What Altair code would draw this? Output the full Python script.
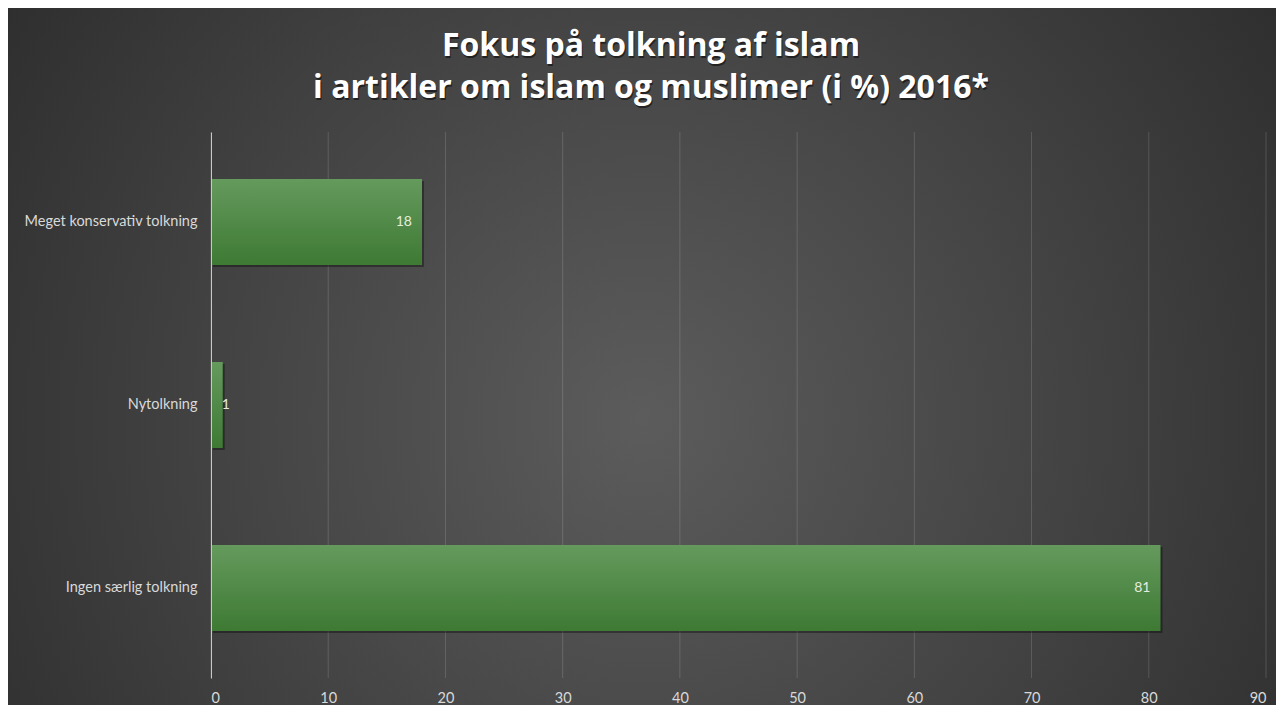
import altair as alt
import pandas as pd

categories = ["Meget konservativ tolkning", "Nytolkning", "Ingen særlig tolkning"]
values = [18, 1, 81]
x_ticks = [0, 10, 20, 30, 40, 50, 60, 70, 80, 90]
title_lines = ["Fokus på tolkning af islam", "i artikler om islam og muslimer (i %) 2016*"]

df = pd.DataFrame({"cat": categories, "val": values})
grid_df = pd.DataFrame({"t": x_ticks})
one = pd.DataFrame({"a": [0]})

W, H = 1055, 546
PL, PT, PR, PB = 203, 124, 10, 27

xscale = alt.Scale(domain=[0, 90], nice=False, zero=True)
yscale = alt.Scale(domain=categories, paddingInner=0.53, paddingOuter=0.257)

bg = alt.Chart(one).mark_rect(
    fill=alt.RadialGradient(
        gradient="radial",
        stops=[
            alt.GradientStop(color="#5c5c5c", offset=0),
            alt.GradientStop(color="#404040", offset=0.5),
            alt.GradientStop(color="#232323", offset=1),
        ],
        x1=0.5, y1=0.55, x2=0.5, y2=0.55, r1=0, r2=0.75,
    )
).encode(
    x=alt.value(-PL), x2=alt.value(W + PR), y=alt.value(-PT), y2=alt.value(H + PB)
)

grid = alt.Chart(grid_df).mark_rule(color="#ffffff", opacity=0.15, strokeWidth=1).encode(
    x=alt.X("t:Q", scale=xscale)
)

ybase = alt.Y(
    "cat:N", sort=categories, scale=yscale,
    axis=alt.Axis(title=None, ticks=False, domain=True, domainColor="#c8c8c8",
                  labelColor="#d9d9d9", labelFont="Lato", labelFontSize=14.5,
                  labelPadding=14, zindex=1),
)
xbase = alt.X(
    "val:Q", scale=xscale,
    axis=alt.Axis(title=None, values=x_ticks, grid=False, ticks=False, domain=False,
                  labelColor="#d9d9d9", labelFont="Lato", labelFontSize=14.5,
                  labelPadding=13, zindex=1),
)
yplain = alt.Y("cat:N", sort=categories, scale=yscale)
xplain = alt.X("val:Q", scale=xscale)

shadow = alt.Chart(df).mark_bar(color="#000000", opacity=0.35, xOffset=2, yOffset=2).encode(
    y=yplain, x=xplain
)

bars = alt.Chart(df).mark_bar(
    fill=alt.LinearGradient(
        gradient="linear",
        stops=[
            alt.GradientStop(color="#659a5d", offset=0),
            alt.GradientStop(color="#3e7a34", offset=1),
        ],
        x1=0, x2=0, y1=0, y2=1,
    )
).encode(y=ybase, x=xbase)

labels_big = alt.Chart(df).transform_filter("datum.val >= 5").mark_text(
    align="right", baseline="middle", dx=-10, color="#e3eddf", font="Lato", fontSize=14
).encode(y=yplain, x=xplain, text="val:Q")

labels_small = alt.Chart(df).transform_filter("datum.val < 5").mark_text(
    align="left", baseline="middle", dx=-1, color="#e3eddf", font="Lato", fontSize=14
).encode(y=yplain, x=xplain, text="val:Q")

TX = 440
title_layers = []
for i, (line, ty) in enumerate(zip(title_lines, [-86, -44])):
    tdf = pd.DataFrame({"t": [line]})
    sh = alt.Chart(tdf).mark_text(
        font="Open Sans", fontSize=32, fontWeight="bold", color="#000000", opacity=0.5,
        align="center", baseline="middle", dx=1, dy=2,
    ).encode(text="t:N", x=alt.value(TX), y=alt.value(ty))
    tx = alt.Chart(tdf).mark_text(
        font="Open Sans", fontSize=32, fontWeight="bold", color="#ffffff",
        align="center", baseline="middle",
    ).encode(text="t:N", x=alt.value(TX), y=alt.value(ty))
    title_layers += [sh, tx]

chart = alt.layer(bg, grid, shadow, bars, labels_big, labels_small, *title_layers).properties(
    width=W,
    height=H,
    padding={"left": PL, "top": PT, "right": PR, "bottom": PB},
    autosize=alt.AutoSizeParams(type="none"),
    background="#262626",
).configure_view(stroke=None)

chart.save("out.html", embed_options={"renderer": "svg", "actions": False})
